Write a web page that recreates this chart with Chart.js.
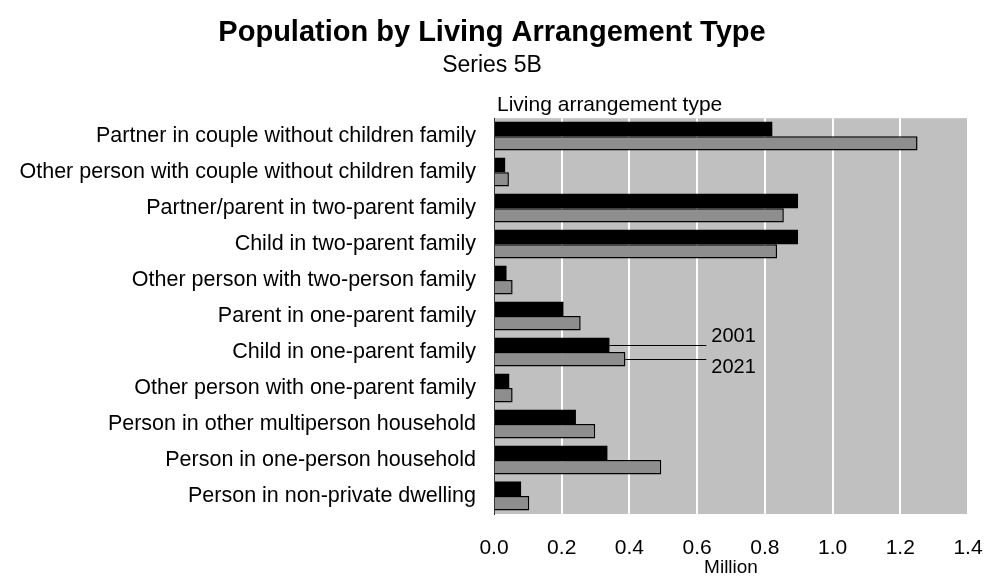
<!DOCTYPE html>
<html>
<head>
<meta charset="utf-8">
<script src="https://cdn.jsdelivr.net/npm/chart.js@4.4.1/dist/chart.umd.min.js"></script>
<style>
  html, body { margin: 0; padding: 0; background: #fff; }
  #wrap { width: 984px; height: 580px; }
</style>
</head>
<body>
<div id="wrap"><canvas id="chart" width="984" height="580"></canvas></div>
<script>
// Population by living arrangement type (million)
const categories = [
    'Partner in couple without children family',
    'Other person with couple without children family',
    'Partner/parent in two-parent family',
    'Child in two-parent family',
    'Other person with two-person family',
    'Parent in one-parent family',
    'Child in one-parent family',
    'Other person with one-parent family',
    'Person in other multiperson household',
    'Person in one-person household',
    'Person in non-private dwelling'
];
const values2001 = [0.822, 0.033, 0.898, 0.898, 0.037, 0.205, 0.341, 0.045, 0.242, 0.335, 0.080];
const values2021 = [1.251, 0.044, 0.856, 0.836, 0.055, 0.256, 0.388, 0.055, 0.299, 0.494, 0.104];
const xTicks = [0, 0.2, 0.4, 0.6, 0.8, 1.0, 1.2, 1.4];
const labelRow = 6; // row that carries the 2001 / 2021 call-outs

const FONT = "'Liberation Sans', Arial, sans-serif";

// grey plot background
const plotBg = {
    id: 'plotBg',
    beforeDraw(chart) {
        const { ctx, chartArea: a } = chart;
        ctx.save();
        ctx.fillStyle = '#c0c0c0';
        ctx.fillRect(a.left, a.top, a.right - a.left, a.bottom - a.top);
        ctx.restore();
    }
};

// "Living arrangement type" caption + series call-outs
const annotations = {
    id: 'annotations',
    afterDatasetsDraw(chart) {
        const { ctx, chartArea: a, scales } = chart;
        ctx.save();
        ctx.fillStyle = '#000';
        ctx.font = '21px ' + FONT;
        ctx.textAlign = 'left';
        ctx.textBaseline = 'middle';
        ctx.fillText('Living arrangement type', a.left + 3, a.top - 13);

        const endX = scales.x.getPixelForValue(0.627);
        const names = ['2001', '2021'];
        ctx.strokeStyle = '#000';
        ctx.lineWidth = 1;
        ctx.font = '20px ' + FONT;
        names.forEach((n, i) => {
            const bar = chart.getDatasetMeta(i).data[labelRow];
            const y = Math.round(bar.y) + 0.5;
            ctx.beginPath();
            ctx.moveTo(bar.x, y);
            ctx.lineTo(endX, y);
            ctx.stroke();
            ctx.fillText(n, endX + 5, i === 0 ? y - 9 : y + 8);
        });
        ctx.restore();
    }
};

new Chart(document.getElementById('chart'), {
    type: 'bar',
    data: {
        labels: categories,
        datasets: [
            {
                label: '2001',
                data: values2001,
                backgroundColor: '#000000',
                borderWidth: 0,
                barPercentage: 1.0,
                categoryPercentage: 0.8
            },
            {
                label: '2021',
                data: values2021,
                backgroundColor: '#8e8e8e',
                borderColor: '#000000',
                borderWidth: 1.5,
                barPercentage: 1.0,
                categoryPercentage: 0.8
            }
        ]
    },
    options: {
        indexAxis: 'y',
        responsive: false,
        animation: false,
        layout: { padding: 0 },
        plugins: {
            legend: { display: false },
            tooltip: { enabled: false },
            title: {
                display: true,
                text: 'Population by Living Arrangement Type',
                color: '#000',
                font: { family: FONT, size: 29, weight: 'bold', lineHeight: 1.2 },
                padding: { top: 15.5, bottom: 2 }
            },
            subtitle: {
                display: true,
                text: 'Series 5B',
                color: '#000',
                font: { family: FONT, size: 23, weight: 'normal', lineHeight: 1.2 },
                padding: { top: 0, bottom: 38.3 }
            }
        },
        scales: {
            x: {
                min: 0,
                max: 1.4,
                afterBuildTicks(scale) { scale.ticks = xTicks.map(v => ({ value: v })); },
                afterFit(scale) {
                    scale.height = 66;
                    scale.paddingLeft = 0;
                    scale.paddingRight = 16;
                },
                grid: { color: '#ffffff', lineWidth: 2, drawTicks: false },
                border: { display: false },
                ticks: {
                    color: '#000',
                    padding: 22,
                    maxRotation: 0,
                    font: { family: FONT, size: 21 },
                    callback: v => Number(v).toFixed(1)
                },
                title: {
                    display: true,
                    text: 'Million',
                    color: '#000',
                    font: { family: FONT, size: 19 },
                    padding: { top: 0, bottom: 1 }
                }
            },
            y: {
                afterFit(scale) { scale.width = 494; },
                grid: { display: false, drawTicks: false },
                border: { display: true, color: '#333', width: 1 },
                ticks: {
                    color: '#000',
                    padding: 18,
                    autoSkip: false,
                    font: { family: FONT, size: 21.5 }
                }
            }
        }
    },
    plugins: [plotBg, annotations]
});
</script>
</body>
</html>
